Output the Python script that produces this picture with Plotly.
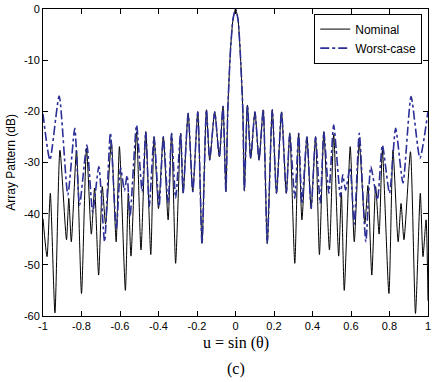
import plotly.graph_objects as go

# ---- data ----
nominal_u = [-1.0, -0.979, -0.962, -0.938, -0.912, -0.878, -0.866, -0.853, -0.826, -0.800,
             -0.774, -0.749, -0.732, -0.711, -0.692, -0.675, -0.645, -0.620, -0.603, -0.572,
             -0.557, -0.543, -0.514, -0.491, -0.466, -0.440, -0.423, -0.400, -0.375, -0.350,
             -0.332, -0.311, -0.285, -0.272, -0.246, -0.222, -0.196, -0.174, -0.151, -0.134,
             -0.108, -0.084, -0.065, -0.050, -0.040, -0.026, -0.013, 0.0, 0.013, 0.024,
             0.038, 0.046, 0.062, 0.079, 0.101, 0.122, 0.144, 0.165, 0.191, 0.213,
             0.239, 0.264, 0.282, 0.308, 0.328, 0.345, 0.371, 0.393, 0.416, 0.436,
             0.459, 0.488, 0.510, 0.536, 0.550, 0.565, 0.596, 0.617, 0.643, 0.672,
             0.688, 0.708, 0.728, 0.746, 0.763, 0.797, 0.818, 0.845, 0.860, 0.875,
             0.909, 0.935, 0.960, 0.974, 0.990, 1.0]
nominal_db = [-41, -48.4, -36, -59.4, -27.6, -45.1, -37, -45.5, -27.6, -55.6,
              -27.2, -44, -35, -52, -34.7, -42, -26, -45.5, -26.9, -55,
              -36, -48.3, -24, -47.1, -24, -48, -25, -39, -25, -41.2,
              -24.3, -49.7, -24.3, -36, -20.4, -35.7, -20.1, -45.8, -19.7, -29.5,
              -20.1, -28.9, -19, -35.7, -19.7, -8, -2, 0, -2, -8,
              -19.7, -35.5, -18.8, -29.2, -20.1, -29.5, -19.7, -45.8, -19.7, -36,
              -20.1, -36, -24.3, -49.7, -24.3, -41.2, -25, -39, -25, -48,
              -24, -47.1, -24.5, -48.3, -36, -55, -26.9, -45.5, -26.3, -42,
              -34.5, -52, -34.7, -44, -27.6, -55.6, -27.6, -45.5, -38, -45.1,
              -27.9, -59.5, -36, -48.4, -41.2, -57]

worst_u = [-1.0, -0.964, -0.916, -0.871, -0.835, -0.810, -0.772, -0.742, -0.710, -0.680,
           -0.650, -0.619, -0.597, -0.577, -0.563, -0.548, -0.514, -0.485, -0.466, -0.448,
           -0.423, -0.397, -0.375, -0.350, -0.332, -0.311, -0.285, -0.272, -0.246, -0.222,
           -0.196, -0.174, -0.151, -0.134, -0.108, -0.084, -0.065, -0.050, -0.040, -0.026,
           -0.013, 0.0, 0.013, 0.024, 0.038, 0.046, 0.062, 0.079, 0.101, 0.122,
           0.144, 0.165, 0.191, 0.213, 0.239, 0.264, 0.282, 0.308, 0.328, 0.345,
           0.371, 0.393, 0.416, 0.440, 0.459, 0.485, 0.510, 0.545, 0.557, 0.572,
           0.595, 0.617, 0.643, 0.677, 0.703, 0.737, 0.763, 0.800, 0.832, 0.870,
           0.912, 0.958, 1.0]
worst_db = [-20.5, -29.5, -17, -36.3, -23.3, -38.3, -26.6, -39.7, -30.8, -45.5,
            -24.2, -43, -31, -35.5, -32.5, -40.6, -22.7, -35.7, -24, -38.6,
            -25, -38.6, -25, -38, -24.3, -37, -24.3, -36, -20.4, -35.7,
            -20.1, -45.8, -19.7, -29.5, -20.1, -28.9, -19, -35.7, -19.7, -8,
            -2, 0, -2, -8, -19.7, -35.5, -18.8, -29.2, -20.1, -29.5,
            -19.7, -45.8, -19.7, -36, -20.1, -36, -24.3, -37, -24.3, -38,
            -25, -39, -25, -38, -24, -36, -22.7, -36.7, -32.4, -35.4,
            -31, -42, -24.3, -45.5, -30.8, -37.3, -26.6, -36, -23.3, -34,
            -17.1, -29.2, -20]

x_ticks = [-1, -0.8, -0.6, -0.4, -0.2, 0, 0.2, 0.4, 0.6, 0.8, 1]
x_tick_text = ["-1", "-0.8", "-0.6", "-0.4", "-0.2", "0", "0.2", "0.4", "0.6", "0.8", "1"]
y_ticks = [0, -10, -20, -30, -40, -50, -60]
y_tick_text = ["0", "-10", "-20", "-30", "-40", "-50", "-60"]

sans = "Liberation Sans, Arial, sans-serif"
serif = "Liberation Serif, Times New Roman, serif"

fig = go.Figure()
fig.add_trace(go.Scatter(x=nominal_u, y=nominal_db, mode="lines", name="Nominal",
                         line=dict(color="black", width=1, shape="spline", smoothing=0.6)))
fig.add_trace(go.Scatter(x=worst_u, y=worst_db, mode="lines", name="Worst-case",
                         line=dict(color="#2b2f96", width=1.6, dash="dashdot",
                                   shape="spline", smoothing=0.6)))

axis_common = dict(showgrid=False, zeroline=False, showline=True, linecolor="black",
                   linewidth=1, mirror="ticks", ticks="inside", ticklen=5,
                   tickcolor="black", ticklabeloverflow="allow",
                   tickfont=dict(family=sans, size=11, color="black"))
fig.update_xaxes(range=[-1, 1], tickvals=x_ticks, ticktext=x_tick_text, **axis_common)
fig.update_yaxes(range=[-60, 0], tickvals=y_ticks, ticktext=y_tick_text, **axis_common)

plot_h = 382 - 9 - 66
plot_w = 434 - 43 - 3

fig.update_layout(
    width=434, height=382,
    margin=dict(l=43, r=3, t=9, b=66),
    plot_bgcolor="white", paper_bgcolor="white",
    showlegend=True,
    legend=dict(x=0.985, y=0.985, xanchor="right", yanchor="top",
                bgcolor="white", bordercolor="black", borderwidth=1,
                font=dict(family=sans, size=12, color="black"),
                tracegroupgap=0, itemwidth=30),
    annotations=[
        dict(text="u = sin (θ)", x=0.5, y=-(343 - 316) / plot_h, xref="paper", yref="paper",
             yanchor="middle", showarrow=False,
             font=dict(family=serif, size=16, color="black")),
        dict(text="(c)", x=0.5, y=-(369 - 316) / plot_h, xref="paper", yref="paper",
             yanchor="middle", showarrow=False,
             font=dict(family=serif, size=16, color="black")),
        dict(text="Array Pattern (dB)", x=-(43 - 10) / plot_w, y=0.5, xref="paper",
             yref="paper", xanchor="center", showarrow=False, textangle=-90,
             font=dict(family=sans, size=12, color="black")),
    ],
)

fig.write_html("out.html")
